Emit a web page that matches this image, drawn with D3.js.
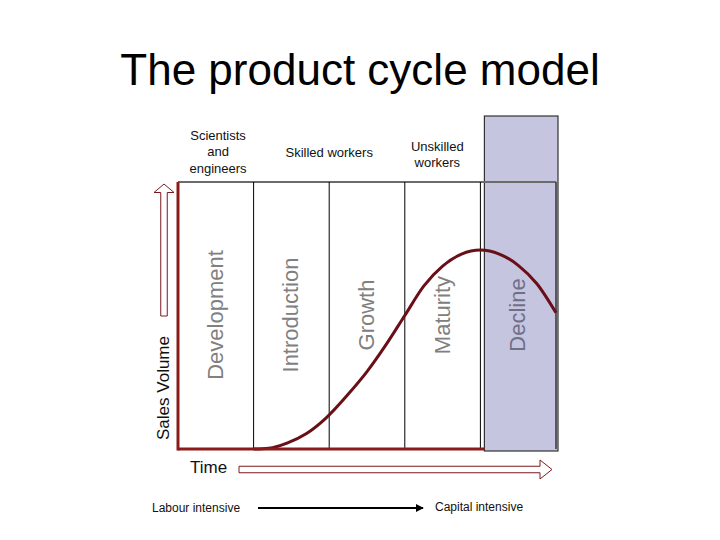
<!DOCTYPE html>
<html lang="en">
<head>
    <meta charset="utf-8">
    <title>The product cycle model</title>
    <style>
        body { margin: 0; background: #fff; font-family: "Liberation Sans", Arial, sans-serif; }
    </style>
    <script type="text/javascript" src="https://d3js.org/d3.v7.min.js"></script>
</head>
<body>
    <div class="chart"></div>
    <script type="text/javascript">
        // stages along the time axis
        var stages = ["Development", "Introduction", "Growth", "Maturity", "Decline"];
        // who does the work, and the stage it sits over
        var workers = [
            { lines: ["Scientists", "and", "engineers"], stage: 0.53, mid: 156 },
            { lines: ["Skilled workers"], stage: 2.0, mid: 156.5 },
            { lines: ["Unskilled", "workers"], stage: 3.43, mid: 159 }
        ];
        // sales curve (time in stage units, sales 0-100)
        var time  = [1.0, 1.2, 1.45, 1.7, 1.95, 2.25, 2.5, 2.75, 3.0, 3.25, 3.5, 3.75, 4.0, 4.25, 4.5, 4.75, 5.0];
        var sales = [0, 0.3, 2.3, 5.8, 11.4, 20.5, 29, 39, 50, 61, 68.5, 73, 74.5, 73, 68.8, 61.8, 51];

        const margin = ({top: 182, right: 164, bottom: 91, left: 178});
        const W = 720, H = 540;
        const w = W - margin.left - margin.right;
        const h = H - margin.top - margin.bottom;

        const xScale = d3.scaleLinear().domain([0, stages.length]).range([0, w]);
        const yScale = d3.scaleLinear().domain([0, 100]).range([h, 0]);

        var svg = d3.select('.chart').append('svg')
            .attr('width', W).attr('height', H);

        svg.append('text')
            .attr('x', 360).attr('y', 85)
            .attr('text-anchor', 'middle')
            .attr('font-size', 44)
            .attr('fill', '#000')
            .text('The product cycle model');

        var g = svg.append('g')
            .attr('transform', `translate(${margin.left},${margin.top})`);

        // shaded decline column, taller than the plot
        g.append('rect')
            .attr('x', xScale(4) + 4)
            .attr('y', -66)
            .attr('width', xScale(5) - xScale(4) - 2)
            .attr('height', h + 68)
            .attr('fill', '#c5c5e0')
            .attr('stroke', '#333')
            .attr('stroke-width', 1.2);

        // top border
        g.append('line')
            .attr('x1', 0).attr('x2', w)
            .attr('y1', 0).attr('y2', 0)
            .attr('stroke', '#6b6b6b').attr('stroke-width', 2);
        // right border
        g.append('line')
            .attr('x1', w).attr('x2', w)
            .attr('y1', 0).attr('y2', h)
            .attr('stroke', '#333').attr('stroke-width', 1.5);

        // dividers between stages
        g.selectAll('.divider')
            .data(d3.range(1, stages.length))
            .enter().append('line')
            .attr('class', 'divider')
            .attr('x1', d => xScale(d)).attr('x2', d => xScale(d))
            .attr('y1', 0).attr('y2', h)
            .attr('stroke', '#000').attr('stroke-width', 1);

        // stage names, rotated
        g.selectAll('.stage')
            .data(stages)
            .enter().append('text')
            .attr('class', 'stage')
            .attr('transform', (d, i) => `translate(${xScale(i + 0.5) + 7},${133}) rotate(-90)`)
            .attr('text-anchor', 'middle')
            .attr('font-size', 22)
            .attr('fill', (d, i) => i == 4 ? '#6f6f88' : '#808080')
            .text(d => d);

        // sales curve
        var line = d3.line()
            .x((d, i) => xScale(time[i]))
            .y(d => yScale(d))
            .curve(d3.curveMonotoneX);
        g.append('path')
            .datum(sales)
            .attr('d', line)
            .attr('fill', 'none')
            .attr('stroke', '#6a0f18')
            .attr('stroke-width', 3);

        // red axes
        g.append('line')
            .attr('x1', 0).attr('x2', 0)
            .attr('y1', 0).attr('y2', h + 1.5)
            .attr('stroke', '#8b1a1a').attr('stroke-width', 3);
        g.append('line')
            .attr('x1', 0).attr('x2', xScale(4) + 4)
            .attr('y1', h).attr('y2', h)
            .attr('stroke', '#8b1a1a').attr('stroke-width', 3);

        // worker labels above the plot
        var wl = svg.selectAll('.worker')
            .data(workers)
            .enter().append('text')
            .attr('class', 'worker')
            .attr('text-anchor', 'middle')
            .attr('font-size', 13)
            .attr('fill', '#111');
        wl.each(function(d) {
            var n = d.lines.length;
            var y0 = d.mid - (n - 1) * 16.5 / 2;
            d3.select(this).selectAll('tspan')
                .data(d.lines)
                .enter().append('tspan')
                .attr('x', margin.left + xScale(d.stage))
                .attr('y', (l, i) => y0 + i * 16.5)
                .text(l => l);
        });

        // hollow arrows
        function hollowArrow(x0, y0, len, body, head, headLen, angle) {
            var b = body / 2, hh = head / 2;
            var pts = [[0, -b], [len - headLen, -b], [len - headLen, -hh], [len, 0],
                       [len - headLen, hh], [len - headLen, b], [0, b]];
            svg.append('path')
                .attr('d', 'M' + pts.map(p => p.join(',')).join('L') + 'Z')
                .attr('transform', `translate(${x0},${y0}) rotate(${angle})`)
                .attr('fill', '#fff')
                .attr('stroke', '#7a1a20')
                .attr('stroke-width', 1);
        }
        hollowArrow(164, 316, 132, 6.5, 20, 8.5, -90);
        hollowArrow(239, 469.5, 313, 6.5, 19, 12, 0);

        svg.append('text')
            .attr('transform', 'translate(169,388) rotate(-90)')
            .attr('text-anchor', 'middle')
            .attr('font-size', 17)
            .attr('fill', '#111')
            .text('Sales Volume');

        svg.append('text')
            .attr('x', 190).attr('y', 473)
            .attr('font-size', 17)
            .attr('fill', '#111')
            .text('Time');

        // labour -> capital
        svg.append('defs').append('marker')
            .attr('id', 'tip')
            .attr('viewBox', '0 0 10 10')
            .attr('refX', 9).attr('refY', 5)
            .attr('markerWidth', 4).attr('markerHeight', 4)
            .attr('orient', 'auto')
            .append('path')
            .attr('d', 'M0,0L10,5L0,10Z')
            .attr('fill', '#000');
        svg.append('line')
            .attr('x1', 258).attr('x2', 423)
            .attr('y1', 508).attr('y2', 508)
            .attr('stroke', '#000').attr('stroke-width', 2)
            .attr('marker-end', 'url(#tip)');

        svg.append('text')
            .attr('x', 152).attr('y', 512)
            .attr('font-size', 12)
            .attr('fill', '#111')
            .text('Labour intensive');
        svg.append('text')
            .attr('x', 435).attr('y', 511)
            .attr('font-size', 12)
            .attr('fill', '#111')
            .text('Capital intensive');
    </script>
</body>
</html>
